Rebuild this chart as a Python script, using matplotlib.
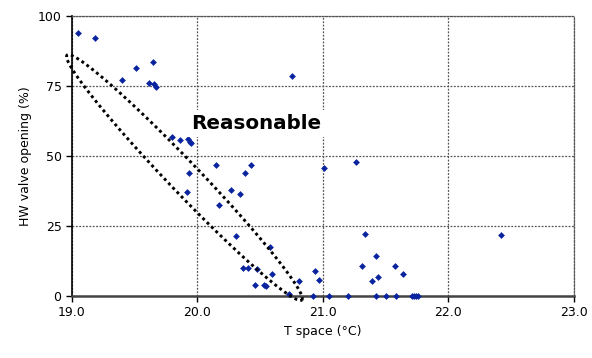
import numpy as np
import matplotlib.pyplot as plt

# Space temperature vs hot water valve opening
t_space = [19.045, 19.18, 19.40, 19.51, 19.61, 19.645, 19.655, 19.666,
           19.80, 19.86, 19.926, 19.94, 19.95, 19.93, 19.916, 20.15,
           20.17, 20.27, 20.31, 20.335, 20.375, 20.43, 20.36, 20.40,
           20.475, 20.457, 20.53, 20.545, 20.58, 20.59, 20.73, 20.757,
           20.81, 20.92, 20.935, 20.97, 21.01, 21.05, 21.20, 21.265,
           21.31, 21.335, 21.39, 21.42, 21.42, 21.44, 21.50, 21.57,
           21.58, 21.64, 21.71, 21.725, 21.74, 21.76, 22.42]
valve = [94, 92, 77, 81.5, 76, 83.5, 75.8, 74.5,
         56.7, 55.7, 56, 55.1, 54.6, 43.9, 37.2, 46.9,
         32.5, 38, 21.5, 36.3, 44, 46.9, 10, 10,
         9.8, 3.8, 3.9, 3.7, 17.5, 7.7, 0.6, 78.6,
         5.3, 0, 8.8, 5.7, 45.8, 0, 0, 47.7,
         10.8, 22, 5.5, 14.4, 0, 6.7, 0, 10.8,
         0, 7.8, 0, 0, 0, 0, 21.8]

x_ticks = [19.0, 20.0, 21.0, 22.0, 23.0]
y_ticks = [0, 25, 50, 75, 100]

# "reasonable" region: ellipse given by centre and two half-axis vectors
ell_center = (19.896, 42.3)
ell_major = (0.935, -43.75)
ell_minor = (0.088, 3.8)

fig = plt.figure(figsize=(5.92, 3.58), dpi=100)
ax = fig.add_axes([0.1216, 0.1732, 0.848, 0.7821])

ax.scatter(t_space, valve, marker='D', s=12, color='#0a24a0', linewidths=0,
           zorder=3, clip_on=False)

t = np.linspace(0, 2 * np.pi, 400)
ex = ell_center[0] + ell_major[0] * np.cos(t) + ell_minor[0] * np.sin(t)
ey = ell_center[1] + ell_major[1] * np.cos(t) + ell_minor[1] * np.sin(t)
ax.plot(ex, ey, color='black', lw=2.1, linestyle=(0, (1.0, 1.1)),
        dash_capstyle='butt', clip_on=False, zorder=4)

ax.text(20.465, 61.6, 'Reasonable', fontsize=14.3, fontweight='bold',
        ha='center', va='center', zorder=5,
        bbox=dict(facecolor='white', edgecolor='none', pad=3))

ax.set_xlim(19, 23)
ax.set_ylim(0, 100)
ax.set_xticks(x_ticks)
ax.set_xticklabels([f'{v:.1f}' for v in x_ticks])
ax.set_yticks(y_ticks)
ax.tick_params(labelsize=9, length=4, width=1, direction='out', colors='black')
ax.grid(True, color='#555555', linestyle=(0, (1.5, 1.2)), linewidth=0.9)
ax.set_axisbelow(True)

for side in ['top', 'right']:
    ax.spines[side].set_color('#555555')
    ax.spines[side].set_linestyle((0, (1.5, 1.2)))
    ax.spines[side].set_linewidth(0.9)
ax.spines['left'].set_color('black')
ax.spines['left'].set_linewidth(1.2)
ax.spines['bottom'].set_color('#444444')
ax.spines['bottom'].set_linewidth(1.8)

ax.set_xlabel('T space (°C)', fontsize=9)
ax.set_ylabel('HW valve opening (%)', fontsize=9)

fig.savefig('out.png', dpi=100)
